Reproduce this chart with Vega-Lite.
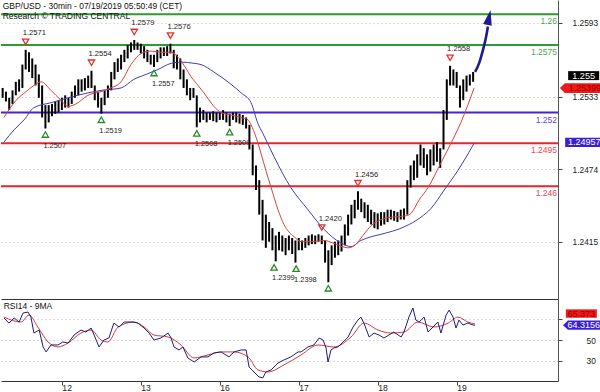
{
  "$schema": "https://vega.github.io/schema/vega-lite/v6.json",
  "padding": 0,
  "autosize": {"type": "pad"},
  "background": "white",
  "spacing": 0,
  "bounds": "flush",
  "config": {
    "view": {"stroke": null},
    "font": "Liberation Sans",
    "axis": {"labelFont": "Liberation Sans", "labelColor": "#222", "tickColor": "#444", "domainColor": "#444", "labelFontSize": 8.4},
    "axisX": {"grid": false},
    "axisY": {"grid": true, "gridDash": [1, 3], "gridColor": "#b8b8b8", "gridWidth": 1}
  },
  "resolve": {"scale": {"x": "independent", "y": "independent"}},
  "datasets": {
    "one": [{}],
    "levels": [
      {"value": 1.26, "label": "1.26", "kind": "res"},
      {"value": 1.2575, "label": "1.2575", "kind": "res"},
      {"value": 1.252, "label": "1.252", "kind": "piv"},
      {"value": 1.2495, "label": "1.2495", "kind": "sup"},
      {"value": 1.246, "label": "1.246", "kind": "sup"}
    ],
    "candles": [{"t":6,"h":1.2540,"l":1.2532},{"t":7,"h":1.2537,"l":1.2529},{"t":8,"h":1.2532,"l":1.2522},{"t":9,"h":1.2538,"l":1.2527},{"t":10,"h":1.2545,"l":1.2534},{"t":11,"h":1.2547,"l":1.2537},{"t":12,"h":1.2559,"l":1.2540},{"t":13,"h":1.2571,"l":1.2555},{"t":14,"h":1.2569,"l":1.2553},{"t":15,"h":1.2564,"l":1.2548},{"t":16,"h":1.2559,"l":1.2542},{"t":17,"h":1.2551,"l":1.2532},{"t":18,"h":1.2542,"l":1.2516},{"t":19,"h":1.2526,"l":1.2507},{"t":20,"h":1.2526,"l":1.2512},{"t":21,"h":1.2527,"l":1.2517},{"t":22,"h":1.2529,"l":1.2519},{"t":23,"h":1.2530,"l":1.2520},{"t":24,"h":1.2532,"l":1.2522},{"t":25,"h":1.2534,"l":1.2524},{"t":26,"h":1.2532,"l":1.2524},{"t":27,"h":1.2537,"l":1.2527},{"t":28,"h":1.2542,"l":1.2532},{"t":29,"h":1.2547,"l":1.2534},{"t":30,"h":1.2547,"l":1.2537},{"t":31,"h":1.2548,"l":1.2538},{"t":32,"h":1.2550,"l":1.2540},{"t":33,"h":1.2554,"l":1.2540},{"t":34,"h":1.2542,"l":1.2530},{"t":35,"h":1.2537,"l":1.2524},{"t":36,"h":1.2532,"l":1.2519},{"t":37,"h":1.2538,"l":1.2526},{"t":38,"h":1.2542,"l":1.2532},{"t":39,"h":1.2553,"l":1.2538},{"t":40,"h":1.2561,"l":1.2547},{"t":41,"h":1.2564,"l":1.2553},{"t":42,"h":1.2567,"l":1.2555},{"t":43,"h":1.2571,"l":1.2561},{"t":44,"h":1.2575,"l":1.2564},{"t":45,"h":1.2577,"l":1.2569},{"t":46,"h":1.2579,"l":1.2571},{"t":47,"h":1.2577,"l":1.2571},{"t":48,"h":1.2576,"l":1.2568},{"t":49,"h":1.2574,"l":1.2564},{"t":50,"h":1.2571,"l":1.2561},{"t":51,"h":1.2567,"l":1.2559},{"t":52,"h":1.2567,"l":1.2557},{"t":53,"h":1.2571,"l":1.2561},{"t":54,"h":1.2573,"l":1.2564},{"t":55,"h":1.2573,"l":1.2566},{"t":56,"h":1.2574,"l":1.2566},{"t":57,"h":1.2576,"l":1.2568},{"t":58,"h":1.2571,"l":1.2556},{"t":59,"h":1.2567,"l":1.2555},{"t":60,"h":1.2564,"l":1.2547},{"t":61,"h":1.2555,"l":1.2540},{"t":62,"h":1.2547,"l":1.2534},{"t":63,"h":1.2540,"l":1.2530},{"t":64,"h":1.2540,"l":1.2532},{"t":65,"h":1.2534,"l":1.2508},{"t":66,"h":1.2524,"l":1.2512},{"t":67,"h":1.2522,"l":1.2514},{"t":68,"h":1.2520,"l":1.2512},{"t":69,"h":1.2520,"l":1.2514},{"t":70,"h":1.2521,"l":1.2513},{"t":71,"h":1.2520,"l":1.2512},{"t":72,"h":1.2520,"l":1.2514},{"t":73,"h":1.2522,"l":1.2514},{"t":74,"h":1.2520,"l":1.2512},{"t":75,"h":1.2519,"l":1.2509},{"t":76,"h":1.2520,"l":1.2514},{"t":77,"h":1.2520,"l":1.2512},{"t":78,"h":1.2519,"l":1.2511},{"t":79,"h":1.2518,"l":1.2510},{"t":80,"h":1.2516,"l":1.2507},{"t":81,"h":1.2510,"l":1.2490},{"t":82,"h":1.2494,"l":1.2469},{"t":83,"h":1.2477,"l":1.2457},{"t":84,"h":1.2465,"l":1.2437},{"t":85,"h":1.2449,"l":1.2416},{"t":86,"h":1.2437,"l":1.2410},{"t":87,"h":1.2431,"l":1.2415},{"t":88,"h":1.2426,"l":1.2408},{"t":89,"h":1.2420,"l":1.2399},{"t":90,"h":1.2423,"l":1.2408},{"t":91,"h":1.2420,"l":1.2407},{"t":92,"h":1.2418,"l":1.2404},{"t":93,"h":1.2420,"l":1.2408},{"t":94,"h":1.2418,"l":1.2405},{"t":95,"h":1.2416,"l":1.2398},{"t":96,"h":1.2418,"l":1.2408},{"t":97,"h":1.2416,"l":1.2408},{"t":98,"h":1.2418,"l":1.2410},{"t":99,"h":1.2420,"l":1.2412},{"t":100,"h":1.2421,"l":1.2413},{"t":101,"h":1.2420,"l":1.2413},{"t":102,"h":1.2421,"l":1.2415},{"t":103,"h":1.2420,"l":1.2413},{"t":104,"h":1.2416,"l":1.2398},{"t":105,"h":1.2408,"l":1.2382},{"t":106,"h":1.2412,"l":1.2396},{"t":107,"h":1.2415,"l":1.2402},{"t":108,"h":1.2416,"l":1.2404},{"t":109,"h":1.2420,"l":1.2407},{"t":110,"h":1.2429,"l":1.2412},{"t":111,"h":1.2437,"l":1.2420},{"t":112,"h":1.2445,"l":1.2429},{"t":113,"h":1.2449,"l":1.2434},{"t":114,"h":1.2456,"l":1.2441},{"t":115,"h":1.2450,"l":1.2439},{"t":116,"h":1.2447,"l":1.2434},{"t":117,"h":1.2445,"l":1.2431},{"t":118,"h":1.2441,"l":1.2429},{"t":119,"h":1.2439,"l":1.2426},{"t":120,"h":1.2438,"l":1.2425},{"t":121,"h":1.2439,"l":1.2428},{"t":122,"h":1.2439,"l":1.2429},{"t":123,"h":1.2441,"l":1.2431},{"t":124,"h":1.2441,"l":1.2433},{"t":125,"h":1.2440,"l":1.2432},{"t":126,"h":1.2439,"l":1.2431},{"t":127,"h":1.2441,"l":1.2433},{"t":128,"h":1.2442,"l":1.2433},{"t":129,"h":1.2465,"l":1.2437},{"t":130,"h":1.2477,"l":1.2459},{"t":131,"h":1.2481,"l":1.2465},{"t":132,"h":1.2486,"l":1.2467},{"t":133,"h":1.2494,"l":1.2477},{"t":134,"h":1.2491,"l":1.2475},{"t":135,"h":1.2486,"l":1.2469},{"t":136,"h":1.2490,"l":1.2472},{"t":137,"h":1.2494,"l":1.2477},{"t":138,"h":1.2496,"l":1.2480},{"t":139,"h":1.2491,"l":1.2475},{"t":140,"h":1.2522,"l":1.2490},{"t":141,"h":1.2547,"l":1.2514},{"t":142,"h":1.2558,"l":1.2542},{"t":143,"h":1.2555,"l":1.2542},{"t":144,"h":1.2553,"l":1.2540},{"t":145,"h":1.2542,"l":1.2524},{"t":146,"h":1.2547,"l":1.2530},{"t":147,"h":1.2550,"l":1.2537},{"t":148,"h":1.2551,"l":1.2542},{"t":149,"h":1.2553,"l":1.2545}],
    "maFast": [{"t":6.4,"p":1.2516},{"t":10.1,"p":1.2530},{"t":13.1,"p":1.2537},{"t":15.5,"p":1.2542},{"t":17.7,"p":1.2545},{"t":20.7,"p":1.2538},{"t":23.7,"p":1.2530},{"t":25.9,"p":1.2525},{"t":28.3,"p":1.2527},{"t":31.9,"p":1.2534},{"t":35.9,"p":1.2537},{"t":38.9,"p":1.2540},{"t":42.0,"p":1.2545},{"t":45.0,"p":1.2559},{"t":48.1,"p":1.2568},{"t":51.1,"p":1.2570},{"t":54.1,"p":1.2569},{"t":57.2,"p":1.2569},{"t":59.6,"p":1.2564},{"t":61.7,"p":1.2556},{"t":63.3,"p":1.2549},{"t":65.4,"p":1.2542},{"t":67.2,"p":1.2536},{"t":70.2,"p":1.2525},{"t":72.4,"p":1.2520},{"t":75.4,"p":1.2518},{"t":78.5,"p":1.2516},{"t":80.6,"p":1.2514},{"t":81.5,"p":1.2510},{"t":83.0,"p":1.2500},{"t":84.5,"p":1.2487},{"t":86.0,"p":1.2473},{"t":87.6,"p":1.2459},{"t":89.7,"p":1.2441},{"t":91.5,"p":1.2429},{"t":93.0,"p":1.2423},{"t":94.6,"p":1.2419},{"t":96.7,"p":1.2415},{"t":99.7,"p":1.2415},{"t":103.7,"p":1.2416},{"t":107.3,"p":1.2413},{"t":111.0,"p":1.2410},{"t":113.4,"p":1.2413},{"t":115.5,"p":1.2420},{"t":118.0,"p":1.2428},{"t":121.0,"p":1.2433},{"t":124.6,"p":1.2435},{"t":128.6,"p":1.2436},{"t":130.1,"p":1.2438},{"t":132.6,"p":1.2449},{"t":135.3,"p":1.2459},{"t":139.2,"p":1.2479},{"t":141.7,"p":1.2492},{"t":145.3,"p":1.2512},{"t":149.3,"p":1.2540}],
    "maSlow": [{"t":6.4,"p":1.2496},{"t":9.5,"p":1.2506},{"t":12.5,"p":1.2514},{"t":15.5,"p":1.2524},{"t":20.7,"p":1.2528},{"t":25.9,"p":1.2532},{"t":31.9,"p":1.2536},{"t":35.9,"p":1.2538},{"t":42.0,"p":1.2540},{"t":45.9,"p":1.2547},{"t":49.6,"p":1.2551},{"t":53.2,"p":1.2555},{"t":57.2,"p":1.2560},{"t":60.2,"p":1.2561},{"t":64.2,"p":1.2560},{"t":66.3,"p":1.2559},{"t":70.2,"p":1.2553},{"t":72.4,"p":1.2549},{"t":75.4,"p":1.2543},{"t":78.5,"p":1.2536},{"t":81.5,"p":1.2528},{"t":83.6,"p":1.2511},{"t":85.1,"p":1.2503},{"t":88.5,"p":1.2484},{"t":93.6,"p":1.2459},{"t":98.8,"p":1.2441},{"t":103.7,"p":1.2425},{"t":108.8,"p":1.2414},{"t":111.9,"p":1.2411},{"t":114.9,"p":1.2416},{"t":118.0,"p":1.2419},{"t":121.0,"p":1.2421},{"t":128.0,"p":1.2427},{"t":133.2,"p":1.2435},{"t":136.2,"p":1.2442},{"t":140.2,"p":1.2457},{"t":144.4,"p":1.2473},{"t":149.3,"p":1.2495}],
    "highs": [{"t":13,"p":1.2571,"label":"1.2571"},{"t":33,"p":1.2554,"label":"1.2554"},{"t":46,"p":1.2579,"label":"1.2579"},{"t":57,"p":1.2576,"label":"1.2576"},{"t":103,"p":1.2420,"label":"1.2420"},{"t":114,"p":1.2456,"label":"1.2456"},{"t":142,"p":1.2558,"label":"1.2558"}],
    "lows": [{"t":19,"p":1.2507,"label":"1.2507"},{"t":36,"p":1.2519,"label":"1.2519"},{"t":52,"p":1.2557,"label":"1.2557"},{"t":65,"p":1.2508,"label":"1.2508"},{"t":75,"p":1.2509,"label":"1.2509"},{"t":88.5,"p":1.2399,"label":"1.2399"},{"t":95.2,"p":1.2398,"label":"1.2398"},{"t":105,"p":1.2382,"label":""}],
    "arrow": [{"t":149.6,"p":1.2553},{"t":150.8,"p":1.2560},{"t":152.0,"p":1.2571},{"t":152.9,"p":1.2581},{"t":153.5,"p":1.2590}],
    "rsi": [{"t":6.4,"v":71.2},{"t":7.9,"v":66.3},{"t":9.5,"v":71.2},{"t":11.0,"v":67.3},{"t":12.2,"v":76.0},{"t":13.7,"v":76.9},{"t":14.6,"v":72.1},{"t":15.5,"v":56.7},{"t":17.1,"v":59.6},{"t":18.3,"v":43.3},{"t":19.2,"v":38.5},{"t":20.7,"v":45.2},{"t":22.8,"v":45.2},{"t":24.3,"v":48.1},{"t":25.9,"v":47.1},{"t":27.7,"v":54.8},{"t":29.8,"v":59.6},{"t":31.3,"v":57.7},{"t":32.9,"v":61.5},{"t":33.8,"v":54.8},{"t":35.3,"v":43.3},{"t":36.8,"v":50.0},{"t":38.3,"v":51.9},{"t":39.8,"v":66.3},{"t":41.4,"v":62.5},{"t":42.9,"v":67.3},{"t":45.6,"v":67.3},{"t":47.1,"v":66.3},{"t":49.0,"v":61.5},{"t":50.5,"v":56.7},{"t":52.0,"v":50.0},{"t":54.1,"v":51.9},{"t":56.3,"v":56.7},{"t":57.2,"v":51.9},{"t":58.1,"v":43.3},{"t":59.6,"v":40.4},{"t":60.8,"v":43.3},{"t":62.3,"v":32.7},{"t":64.2,"v":28.8},{"t":66.3,"v":33.7},{"t":68.4,"v":33.7},{"t":70.2,"v":37.5},{"t":72.4,"v":38.5},{"t":74.8,"v":33.7},{"t":76.3,"v":38.5},{"t":78.5,"v":40.4},{"t":80.0,"v":40.4},{"t":80.9,"v":24.0},{"t":82.4,"v":19.2},{"t":83.9,"v":14.4},{"t":85.1,"v":13.5},{"t":86.0,"v":19.2},{"t":87.6,"v":21.2},{"t":89.7,"v":27.9},{"t":91.5,"v":30.8},{"t":93.6,"v":33.7},{"t":95.8,"v":38.5},{"t":96.7,"v":38.5},{"t":98.8,"v":43.3},{"t":100.6,"v":45.2},{"t":102.2,"v":51.9},{"t":103.4,"v":50.0},{"t":104.3,"v":42.3},{"t":104.9,"v":28.8},{"t":105.8,"v":40.4},{"t":106.7,"v":42.3},{"t":107.9,"v":43.3},{"t":109.5,"v":48.1},{"t":111.0,"v":52.9},{"t":112.5,"v":62.5},{"t":114.0,"v":69.2},{"t":114.9,"v":72.1},{"t":115.8,"v":66.3},{"t":117.4,"v":52.9},{"t":118.9,"v":56.7},{"t":120.4,"v":54.8},{"t":121.9,"v":51.9},{"t":123.4,"v":54.8},{"t":124.9,"v":57.7},{"t":127.1,"v":52.9},{"t":128.0,"v":57.7},{"t":129.5,"v":72.1},{"t":130.7,"v":80.8},{"t":131.6,"v":69.2},{"t":132.6,"v":67.3},{"t":134.1,"v":72.1},{"t":135.3,"v":57.7},{"t":136.8,"v":62.5},{"t":138.3,"v":67.3},{"t":139.2,"v":56.7},{"t":140.8,"v":74.0},{"t":141.7,"v":78.8},{"t":142.9,"v":72.1},{"t":143.8,"v":61.5},{"t":144.7,"v":69.2},{"t":145.9,"v":64.4},{"t":147.4,"v":66.3},{"t":149.0,"v":64.4},{"t":149.6,"v":64.3}],
    "rsiMa": [{"t":6.4,"v":72.1},{"t":11.6,"v":67.3},{"t":14.0,"v":74.0},{"t":16.7,"v":62.5},{"t":19.8,"v":48.1},{"t":22.8,"v":43.3},{"t":25.9,"v":47.1},{"t":29.8,"v":56.7},{"t":32.9,"v":59.6},{"t":35.9,"v":50.0},{"t":38.0,"v":48.1},{"t":41.1,"v":62.5},{"t":45.9,"v":67.3},{"t":49.0,"v":62.5},{"t":52.0,"v":54.8},{"t":56.3,"v":52.9},{"t":60.2,"v":45.2},{"t":64.2,"v":32.7},{"t":68.4,"v":35.6},{"t":72.4,"v":38.5},{"t":76.3,"v":38.5},{"t":80.6,"v":33.7},{"t":83.6,"v":21.2},{"t":86.7,"v":19.2},{"t":91.5,"v":26.0},{"t":96.7,"v":35.6},{"t":101.9,"v":45.2},{"t":106.7,"v":43.3},{"t":111.9,"v":52.9},{"t":115.8,"v":66.3},{"t":120.1,"v":59.6},{"t":124.0,"v":56.7},{"t":128.0,"v":57.7},{"t":132.2,"v":67.3},{"t":137.1,"v":62.5},{"t":141.4,"v":66.3},{"t":144.4,"v":72.1},{"t":147.4,"v":67.3},{"t":149.6,"v":65.4}]
  },
  "vconcat": [
    {
      "width": 557,
      "height": 299,
      "layer": [
        {
          "data": {"name": "levels"},
          "mark": {"type": "rule", "strokeWidth": 2},
          "encoding": {
            "y": {"field": "value", "type": "quantitative", "scale": {"domain": [1.23684, 1.26115], "nice": false, "zero": false}},
            "color": {"field": "kind", "type": "nominal", "scale": {"domain": ["res", "piv", "sup"], "range": ["#2f9a2f", "#4a22d4", "#e3262f"]}, "legend": null}
          }
        },
        {
          "data": {"name": "levels"},
          "mark": {"type": "text", "align": "right", "baseline": "top", "dx": -1, "dy": 3, "fontSize": 8.5, "opacity": 0.85},
          "encoding": {
            "x": {"datum": 174.8, "type": "quantitative", "scale": {"domain": [5.5, 174.8], "nice": false, "zero": false}},
            "y": {"field": "value", "type": "quantitative", "scale": {"domain": [1.23684, 1.26115], "nice": false, "zero": false}},
            "text": {"field": "label"},
            "color": {"field": "kind", "type": "nominal", "scale": {"domain": ["res", "piv", "sup"], "range": ["#2f9a2f", "#4a22d4", "#e3262f"]}, "legend": null}
          }
        },
        {
          "data": {"name": "candles"},
          "mark": {"type": "rule", "color": "#000000", "strokeWidth": 2},
          "encoding": {
            "x": {"field": "t", "type": "quantitative", "scale": {"domain": [5.5, 174.8], "nice": false, "zero": false},
                  "axis": {"orient": "bottom", "title": null, "labels": false, "ticks": false, "domain": true, "domainColor": "#333", "grid": false}},
            "y": {"field": "l", "type": "quantitative", "scale": {"domain": [1.23684, 1.26115], "nice": false, "zero": false},
                  "axis": {"orient": "right", "title": null, "values": [1.2415, 1.2474, 1.2533, 1.2593], "format": ".4f", "tickSize": 4, "labelPadding": 10, "domainColor": "#555", "grid": true}},
            "y2": {"field": "h"}
          }
        },
        {
          "data": {"name": "maSlow"},
          "mark": {"type": "line", "color": "#3f3fae", "strokeWidth": 1, "interpolate": "monotone"},
          "encoding": {
            "x": {"field": "t", "type": "quantitative", "scale": {"domain": [5.5, 174.8], "nice": false, "zero": false}},
            "y": {"field": "p", "type": "quantitative", "scale": {"domain": [1.23684, 1.26115], "nice": false, "zero": false}}
          }
        },
        {
          "data": {"name": "maFast"},
          "mark": {"type": "line", "color": "#d8433c", "strokeWidth": 1, "interpolate": "monotone"},
          "encoding": {
            "x": {"field": "t", "type": "quantitative", "scale": {"domain": [5.5, 174.8], "nice": false, "zero": false}},
            "y": {"field": "p", "type": "quantitative", "scale": {"domain": [1.23684, 1.26115], "nice": false, "zero": false}}
          }
        },
        {
          "data": {"name": "highs"},
          "mark": {"type": "point", "shape": "triangle-down", "filled": false, "color": "#e3302f", "strokeWidth": 1.3, "size": 40, "yOffset": -8, "opacity": 1},
          "encoding": {
            "x": {"field": "t", "type": "quantitative", "scale": {"domain": [5.5, 174.8], "nice": false, "zero": false}},
            "y": {"field": "p", "type": "quantitative", "scale": {"domain": [1.23684, 1.26115], "nice": false, "zero": false}}
          }
        },
        {
          "data": {"name": "highs"},
          "mark": {"type": "text", "align": "left", "baseline": "alphabetic", "dx": -3, "dy": -14.5, "fontSize": 7.6, "color": "#222"},
          "encoding": {
            "x": {"field": "t", "type": "quantitative", "scale": {"domain": [5.5, 174.8], "nice": false, "zero": false}},
            "y": {"field": "p", "type": "quantitative", "scale": {"domain": [1.23684, 1.26115], "nice": false, "zero": false}},
            "text": {"field": "label"}
          }
        },
        {
          "data": {"name": "lows"},
          "mark": {"type": "point", "shape": "triangle-up", "filled": false, "color": "#2a8a2a", "strokeWidth": 1.3, "size": 40, "yOffset": 6, "opacity": 1},
          "encoding": {
            "x": {"field": "t", "type": "quantitative", "scale": {"domain": [5.5, 174.8], "nice": false, "zero": false}},
            "y": {"field": "p", "type": "quantitative", "scale": {"domain": [1.23684, 1.26115], "nice": false, "zero": false}}
          }
        },
        {
          "data": {"name": "lows"},
          "mark": {"type": "text", "align": "left", "baseline": "top", "dx": -2, "dy": 13, "fontSize": 7.4, "color": "#222"},
          "encoding": {
            "x": {"field": "t", "type": "quantitative", "scale": {"domain": [5.5, 174.8], "nice": false, "zero": false}},
            "y": {"field": "p", "type": "quantitative", "scale": {"domain": [1.23684, 1.26115], "nice": false, "zero": false}},
            "text": {"field": "label"}
          }
        },
        {
          "data": {"name": "arrow"},
          "mark": {"type": "line", "color": "#1c1c8c", "strokeWidth": 2.6, "interpolate": "monotone"},
          "encoding": {
            "x": {"field": "t", "type": "quantitative", "scale": {"domain": [5.5, 174.8], "nice": false, "zero": false}},
            "y": {"field": "p", "type": "quantitative", "scale": {"domain": [1.23684, 1.26115], "nice": false, "zero": false}}
          }
        },
        {
          "data": {"name": "one"},
          "mark": {"type": "point", "shape": "M0,-1L0.55,0.9L-0.55,0.9Z", "filled": true, "color": "#1c1c8c", "size": 256, "angle": 12, "opacity": 1},
          "encoding": {
            "x": {"datum": 153.8, "type": "quantitative", "scale": {"domain": [5.5, 174.8], "nice": false, "zero": false}},
            "y": {"datum": 1.2597, "type": "quantitative", "scale": {"domain": [1.23684, 1.26115], "nice": false, "zero": false}}
          }
        },
        {
          "data": {"name": "one"},
          "mark": {"type": "text", "text": "GBP/USD - 30min - 07/19/2019 05:50:49 (CET)", "align": "left", "baseline": "top", "fontSize": 8.5, "color": "#111"},
          "encoding": {
            "x": {"datum": 6.0, "type": "quantitative", "scale": {"domain": [5.5, 174.8], "nice": false, "zero": false}},
            "y": {"datum": 1.2610, "type": "quantitative", "scale": {"domain": [1.23684, 1.26115], "nice": false, "zero": false}}
          }
        },
        {
          "data": {"name": "one"},
          "mark": {"type": "text", "text": "Research © TRADING CENTRAL", "align": "left", "baseline": "top", "fontSize": 8.5, "color": "#111"},
          "encoding": {
            "x": {"datum": 6.0, "type": "quantitative", "scale": {"domain": [5.5, 174.8], "nice": false, "zero": false}},
            "y": {"datum": 1.2602, "type": "quantitative", "scale": {"domain": [1.23684, 1.26115], "nice": false, "zero": false}}
          }
        },
        {
          "data": {"name": "one"},
          "mark": {"type": "point", "shape": "M-1,-0.29H1V0.29H-1Z", "filled": true, "color": "#000000", "size": 961, "opacity": 1},
          "encoding": {
            "x": {"datum": 182.6, "type": "quantitative", "scale": {"domain": [5.5, 174.8], "nice": false, "zero": false}},
            "y": {"datum": 1.255, "type": "quantitative", "scale": {"domain": [1.23684, 1.26115], "nice": false, "zero": false}}
          }
        },
        {
          "data": {"name": "one"},
          "mark": {"type": "text", "text": "1.255", "align": "center", "baseline": "middle", "fontSize": 9.2, "color": "#ffffff"},
          "encoding": {
            "x": {"datum": 182.6, "type": "quantitative", "scale": {"domain": [5.5, 174.8], "nice": false, "zero": false}},
            "y": {"datum": 1.255, "type": "quantitative", "scale": {"domain": [1.23684, 1.26115], "nice": false, "zero": false}}
          }
        },
        {
          "data": {"name": "one"},
          "mark": {"type": "point", "shape": "M-1,0L-0.76,-0.24H1V0.24H-0.76Z", "filled": true, "color": "#f01818", "size": 1681, "opacity": 1},
          "encoding": {
            "x": {"datum": 181.6, "type": "quantitative", "scale": {"domain": [5.5, 174.8], "nice": false, "zero": false}},
            "y": {"datum": 1.25399, "type": "quantitative", "scale": {"domain": [1.23684, 1.26115], "nice": false, "zero": false}}
          }
        },
        {
          "data": {"name": "one"},
          "mark": {"type": "text", "text": "1.25399", "align": "center", "baseline": "middle", "fontSize": 9, "color": "#9a0000"},
          "encoding": {
            "x": {"datum": 182.9, "type": "quantitative", "scale": {"domain": [5.5, 174.8], "nice": false, "zero": false}},
            "y": {"datum": 1.25399, "type": "quantitative", "scale": {"domain": [1.23684, 1.26115], "nice": false, "zero": false}}
          }
        },
        {
          "data": {"name": "one"},
          "mark": {"type": "point", "shape": "M-1,-0.25H1V0.25H-1Z", "filled": true, "color": "#3a1fd8", "size": 1369, "opacity": 1},
          "encoding": {
            "x": {"datum": 182.6, "type": "quantitative", "scale": {"domain": [5.5, 174.8], "nice": false, "zero": false}},
            "y": {"datum": 1.24957, "type": "quantitative", "scale": {"domain": [1.23684, 1.26115], "nice": false, "zero": false}}
          }
        },
        {
          "data": {"name": "one"},
          "mark": {"type": "text", "text": "1.24957", "align": "center", "baseline": "middle", "fontSize": 9, "color": "#ffffff"},
          "encoding": {
            "x": {"datum": 182.8, "type": "quantitative", "scale": {"domain": [5.5, 174.8], "nice": false, "zero": false}},
            "y": {"datum": 1.24957, "type": "quantitative", "scale": {"domain": [1.23684, 1.26115], "nice": false, "zero": false}}
          }
        }
      ]
    },
    {
      "width": 557,
      "height": 82,
      "layer": [
        {
          "data": {"name": "rsiMa"},
          "mark": {"type": "line", "color": "#d03a3a", "strokeWidth": 1, "interpolate": "monotone"},
          "encoding": {
            "x": {"field": "t", "type": "quantitative", "scale": {"domain": [5.5, 174.8], "nice": false, "zero": false},
                  "axis": {"orient": "bottom", "title": null, "values": [24, 48, 72, 96, 120, 144],
                           "labelExpr": "datum.value == 24 ? '12' : datum.value == 48 ? '13' : datum.value == 72 ? '16' : datum.value == 96 ? '17' : datum.value == 120 ? '18' : '19'",
                           "labelAlign": "left", "labelDx": 1, "labelPadding": -2, "tickSize": 4, "labelFontSize": 8.6, "domainColor": "#333", "grid": false}},
            "y": {"field": "v", "type": "quantitative", "scale": {"domain": [10.5, 89.5], "nice": false, "zero": false},
                  "axis": {"orient": "right", "title": null, "values": [30, 50, 70], "labelExpr": "datum.value == 70 ? '' : datum.label", "tickSize": 4, "labelPadding": 24, "domainColor": "#555", "grid": true}}
          }
        },
        {
          "data": {"name": "rsi"},
          "mark": {"type": "line", "color": "#1e1e72", "strokeWidth": 1},
          "encoding": {
            "x": {"field": "t", "type": "quantitative", "scale": {"domain": [5.5, 174.8], "nice": false, "zero": false}},
            "y": {"field": "v", "type": "quantitative", "scale": {"domain": [10.5, 89.5], "nice": false, "zero": false}}
          }
        },
        {
          "data": {"name": "one"},
          "mark": {"type": "text", "text": "RSI14 - 9MA", "align": "left", "baseline": "top", "fontSize": 8.5, "color": "#111"},
          "encoding": {
            "x": {"datum": 6.3, "type": "quantitative", "scale": {"domain": [5.5, 174.8], "nice": false, "zero": false}},
            "y": {"datum": 87, "type": "quantitative", "scale": {"domain": [10.5, 89.5], "nice": false, "zero": false}}
          }
        },
        {
          "data": {"name": "one"},
          "mark": {"type": "point", "shape": "M-1,-0.27H1V0.27H-1Z", "filled": true, "color": "#f01818", "size": 961, "yOffset": -10.5, "opacity": 1},
          "encoding": {
            "x": {"datum": 181.9, "type": "quantitative", "scale": {"domain": [5.5, 174.8], "nice": false, "zero": false}},
            "y": {"datum": 65.373, "type": "quantitative", "scale": {"domain": [10.5, 89.5], "nice": false, "zero": false}}
          }
        },
        {
          "data": {"name": "one"},
          "mark": {"type": "text", "text": "65.373", "align": "center", "baseline": "middle", "fontSize": 9, "color": "#9a0000", "dy": -10.5},
          "encoding": {
            "x": {"datum": 181.9, "type": "quantitative", "scale": {"domain": [5.5, 174.8], "nice": false, "zero": false}},
            "y": {"datum": 65.373, "type": "quantitative", "scale": {"domain": [10.5, 89.5], "nice": false, "zero": false}}
          }
        },
        {
          "data": {"name": "one"},
          "mark": {"type": "point", "shape": "M-1,0L-0.74,-0.24H1V0.24H-0.74Z", "filled": true, "color": "#3a1fd8", "size": 1444, "opacity": 1},
          "encoding": {
            "x": {"datum": 182.1, "type": "quantitative", "scale": {"domain": [5.5, 174.8], "nice": false, "zero": false}},
            "y": {"datum": 64.3156, "type": "quantitative", "scale": {"domain": [10.5, 89.5], "nice": false, "zero": false}}
          }
        },
        {
          "data": {"name": "one"},
          "mark": {"type": "text", "text": "64.3156", "align": "center", "baseline": "middle", "fontSize": 9, "color": "#ffffff"},
          "encoding": {
            "x": {"datum": 182.6, "type": "quantitative", "scale": {"domain": [5.5, 174.8], "nice": false, "zero": false}},
            "y": {"datum": 64.3156, "type": "quantitative", "scale": {"domain": [10.5, 89.5], "nice": false, "zero": false}}
          }
        }
      ]
    }
  ]
}
